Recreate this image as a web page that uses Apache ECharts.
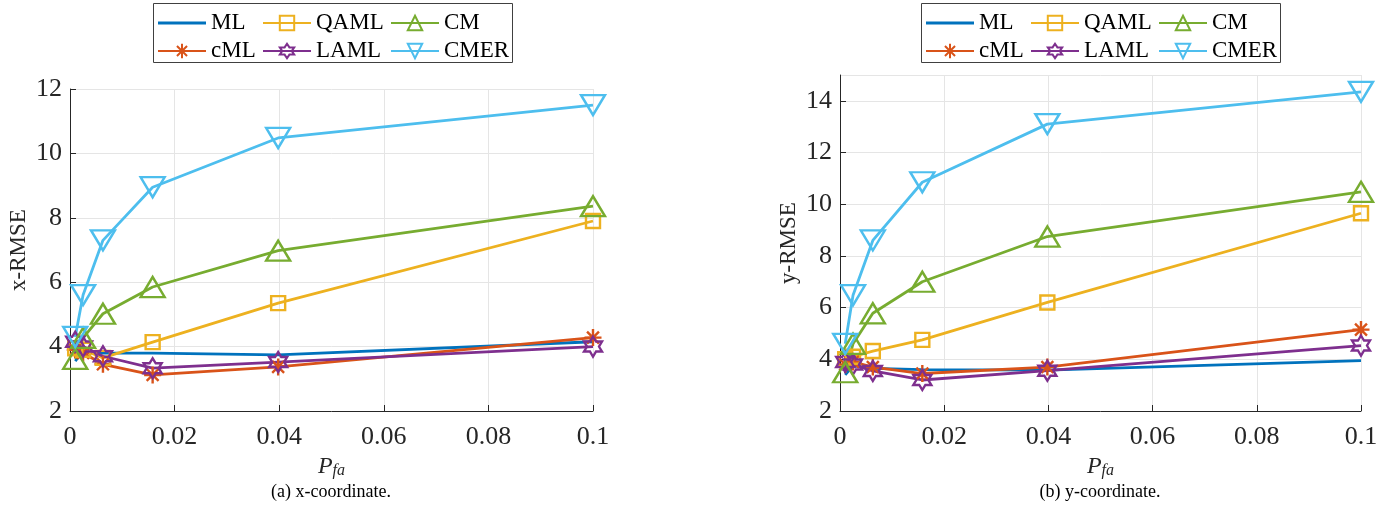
<!DOCTYPE html>
<html>
<head>
<meta charset="utf-8">
<script src="https://cdn.jsdelivr.net/npm/echarts@6/dist/echarts.min.js"></script>
<style>
html,body{margin:0;padding:0;background:#fff;}
#c{width:1395px;height:515px;}
</style>
</head>
<body>
<div id="c"></div>
<script>
// ---- data ----
const pfa = [0.001, 0.0025, 0.0063, 0.0158, 0.0398, 0.1];
const seriesNames = ['ML', 'cML', 'QAML', 'LAML', 'CM', 'CMER'];
const legendCols = [['ML', 'cML'], ['QAML', 'LAML'], ['CM', 'CMER']];
// x-RMSE (left panel)
const xML   = [3.55, 3.85, 3.8, 3.8, 3.74, 4.15];
const xcML  = [3.9, 3.8, 3.45, 3.12, 3.37, 4.28];
const xQAML = [3.95, 3.9, 3.65, 4.14, 5.35, 7.9];
const xLAML = [4.15, 4.0, 3.7, 3.33, 3.52, 4.0];
const xCM   = [3.62, 4.27, 5.02, 5.85, 6.98, 8.36];
const xCMER = [4.3, 5.6, 7.3, 8.95, 10.48, 11.5];
// y-RMSE (right panel)
const yML   = [3.4, 3.75, 3.65, 3.6, 3.58, 3.95];
const ycML  = [3.8, 3.9, 3.7, 3.45, 3.7, 5.15];
const yQAML = [4.0, 4.1, 4.32, 4.75, 6.2, 9.65];
const yLAML = [3.9, 3.8, 3.55, 3.2, 3.56, 4.53];
const yCM   = [3.5, 4.6, 5.78, 7.0, 8.75, 10.48];
const yCMER = [4.6, 6.48, 8.6, 10.85, 13.1, 14.35];
const captions = ['(a) x-coordinate.', '(b) y-coordinate.'];
const yNames = ['x-RMSE', 'y-RMSE'];

// ---- styles ----
const colors = {ML:'#0072BD', cML:'#D95319', QAML:'#EDB120', LAML:'#7E2F8E', CM:'#77AC30', CMER:'#4DBEEE'};
const hexagram = 'path://M0,-1L0.2887,-0.5L0.866,-0.5L0.5774,0L0.866,0.5L0.2887,0.5L0,1L-0.2887,0.5L-0.866,0.5L-0.5774,0L-0.866,-0.5L-0.2887,-0.5Z';
const asterisk = 'path://M0,-1L0,1M-1,0L1,0M-0.7,-0.7L0.7,0.7M-0.7,0.7L0.7,-0.7';
const triUp = 'path://M1,0L2,1.732L0,1.732Z';
const triDown = 'path://M0,0L2,0L1,1.732Z';
const markers = {
  ML: {symbol:'none', size:0},
  cML: {symbol:asterisk, size:[17,17]},
  QAML: {symbol:'rect', size:[14,14]},
  LAML: {symbol:hexagram, size:[18,20]},
  CM: {symbol:triUp, size:[24,20]},
  CMER: {symbol:triDown, size:[24,20]}
};
const FONT = 'Liberation Serif';
const panelData = [
  {ML:xML, cML:xcML, QAML:xQAML, LAML:xLAML, CM:xCM, CMER:xCMER},
  {ML:yML, cML:ycML, QAML:yQAML, LAML:yLAML, CM:yCM, CMER:yCMER}
];
const grids = [
  {left:70, right:802, top:89, bottom:104},
  {left:840, right:34, top:75, bottom:104}
];
const yMax = [12, 15];
const legendBox = [153, 921];

const option = {
  animation:false,
  backgroundColor:'#fff',
  grid: grids.map(g => Object.assign({containLabel:false}, g)),
  xAxis: [0,1].map(i => ({
    gridIndex:i, type:'value', min:0, max:0.1, interval:0.02,
    name:'{p|P}{s|fa}', nameLocation:'middle', nameGap:35,
    nameTextStyle:{rich:{
      p:{fontFamily:FONT, fontStyle:'italic', fontSize:24, color:'#262626', lineHeight:30, verticalAlign:'bottom'},
      s:{fontFamily:FONT, fontStyle:'italic', fontSize:16, color:'#262626', lineHeight:30, verticalAlign:'bottom'}
    }},
    axisLine:{show:true, onZero:false, lineStyle:{color:'#262626', width:1}},
    axisTick:{show:true, inside:true, length:6, lineStyle:{color:'#262626'}},
    axisLabel:{fontFamily:FONT, fontSize:26, color:'#262626', margin:13},
    splitLine:{show:true, lineStyle:{color:'#e5e5e5', width:1}}
  })),
  yAxis: [0,1].map(i => ({
    gridIndex:i, type:'value', min:2, max:yMax[i], interval:2,
    name:yNames[i], nameLocation:'middle', nameGap:40, nameRotate:90,
    nameTextStyle:{fontFamily:FONT, fontSize:23, color:'#262626'},
    axisLine:{show:true, onZero:false, lineStyle:{color:'#262626', width:1}},
    axisTick:{show:true, inside:true, length:6, lineStyle:{color:'#262626'}},
    axisLabel:{fontFamily:FONT, fontSize:26, color:'#262626', margin:8, showMaxLabel: i===0},
    splitLine:{show:true, lineStyle:{color:'#e5e5e5', width:1}}
  })),
  legend: [],
  series: [],
  graphic: []
};

[0,1].forEach(p => {
  seriesNames.forEach(n => {
    const m = markers[n];
    option.series.push({
      name:n, type:'line', xAxisIndex:p, yAxisIndex:p,
      data: pfa.map((x,k) => [x, panelData[p][n][k]]),
      symbol:m.symbol, symbolSize:m.size, showSymbol: n!=='ML',
      lineStyle:{color:colors[n], width:2.8},
      itemStyle:{color:'rgba(255,255,255,0)', borderColor:colors[n], borderWidth:2.4},
      emphasis:{disabled:true}, silent:true
    });
  });
  legendCols.forEach((col, c) => {
    const lx = legendBox[p] + [4, 109, 237][c];
    option.legend.push({
      data: col.map(n => n === 'ML'
        ? {name:n, icon:'path://M0,0L48,0L48,2.8L0,2.8Z', itemStyle:{color:colors.ML, borderWidth:0}}
        : {name:n}),
      orient:'vertical', left:lx, top:9,
      itemWidth:48, itemHeight:18, itemGap:0, padding:0,
      symbolKeepAspect:true,
      selectedMode:false,
      textStyle:{fontFamily:FONT, fontSize:23, color:'#000', lineHeight:28}
    });
  });
  option.graphic.push({
    type:'rect', shape:{x:legendBox[p]+0.5, y:3.5, width:359, height:59},
    style:{fill:'#fff', stroke:'#404040', lineWidth:1}, z:-1
  });
  option.graphic.push({
    type:'text', x: p===0 ? 331 : 1100, y:492,
    style:{text:captions[p], font:'18px "Liberation Serif"', fill:'#000', textAlign:'center', textVerticalAlign:'middle'}
  });
});

const chart = echarts.init(document.getElementById('c'), null, {renderer:'canvas'});
chart.setOption(option);
</script>
</body>
</html>
